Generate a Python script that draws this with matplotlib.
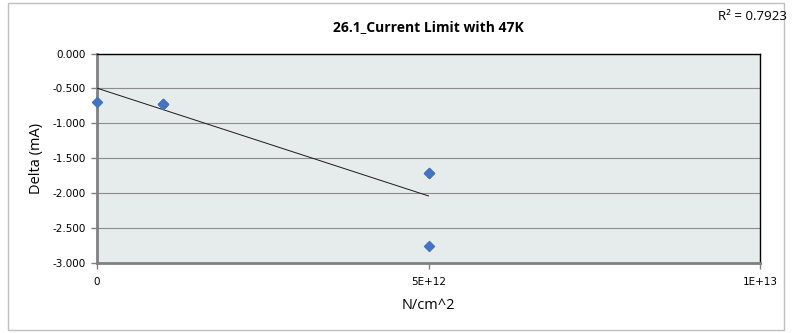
import matplotlib
matplotlib.use("Agg")
import matplotlib.pyplot as plt
import numpy as np
from matplotlib.patches import Rectangle

# Data (overlapping points included)
fluence = [0, 1e12, 1e12, 1e12, 5e12, 5e12, 5e12]
delta_ma = [-0.70, -0.72, -0.72, -0.72, -1.71, -1.71, -2.75]
yticks = [0.0, -0.5, -1.0, -1.5, -2.0, -2.5, -3.0]
xticks = [0, 5e12, 1e13]
xticklabels = ["0", "5E+12", "1E+13"]
title = "26.1_Current Limit with 47K"
r2_label = "R\u00b2 = 0.7923"

fig = plt.figure(figsize=(7.94, 3.33), dpi=100)
fig.patch.set_facecolor("white")
# chart border
fig.patches.append(Rectangle((8/794, 3/333), (784-8)/794, (330-3)/333, transform=fig.transFigure,
                             fill=False, edgecolor="#c0c0c0", linewidth=1.0))

ax = fig.add_axes([97/794, 1-263/333, (760-97)/794, (263-53.5)/333])
ax.set_facecolor("#e6ebeb")

x = np.array(fluence)
y = np.array(delta_ma)
slope, intercept = np.polyfit(x, y, 1)
xl = np.array([x.min(), x.max()])
ax.plot(xl, slope*xl + intercept, color="#1a1a1a", linewidth=0.7, zorder=3)
ax.scatter(x, y, marker="D", s=26, color="#4472c4", edgecolor="#4472c4", zorder=4, clip_on=False)

ax.set_xlim(0, 1e13)
ax.set_ylim(-3.0, 0.0)
ax.set_yticks(yticks)
ax.set_yticklabels([f"{v:.3f}" for v in yticks], fontsize=7.5, family="DejaVu Sans")
ax.set_xticks(xticks)
ax.set_xticklabels(xticklabels, fontsize=7.5, family="DejaVu Sans")
ax.yaxis.grid(True, color="#8c8c8c", linewidth=0.8)
ax.set_axisbelow(True)

for s in ["top", "right"]:
    ax.spines[s].set_color("black")
    ax.spines[s].set_linewidth(1.0)
for s in ["left", "bottom"]:
    ax.spines[s].set_color("#808080")
    ax.spines[s].set_linewidth(2.0)
ax.tick_params(axis="both", direction="out", length=4, color="#808080", width=1)
ax.tick_params(axis="x", pad=6)
ax.tick_params(axis="y", pad=4)

ax.set_xlabel("N/cm^2", fontsize=10.5, family="Open Sans", labelpad=8)
ax.set_ylabel("Delta (mA)", fontsize=10.5, family="Open Sans", labelpad=6)
fig.text(428/794, 1-27/333, title, fontsize=10, fontweight="bold", family="Open Sans",
         ha="center", va="center")
fig.text(787/794, 1-17/333, r2_label, fontsize=9.5, family="Open Sans", ha="right", va="center")

fig.savefig("out.png", dpi=100)
